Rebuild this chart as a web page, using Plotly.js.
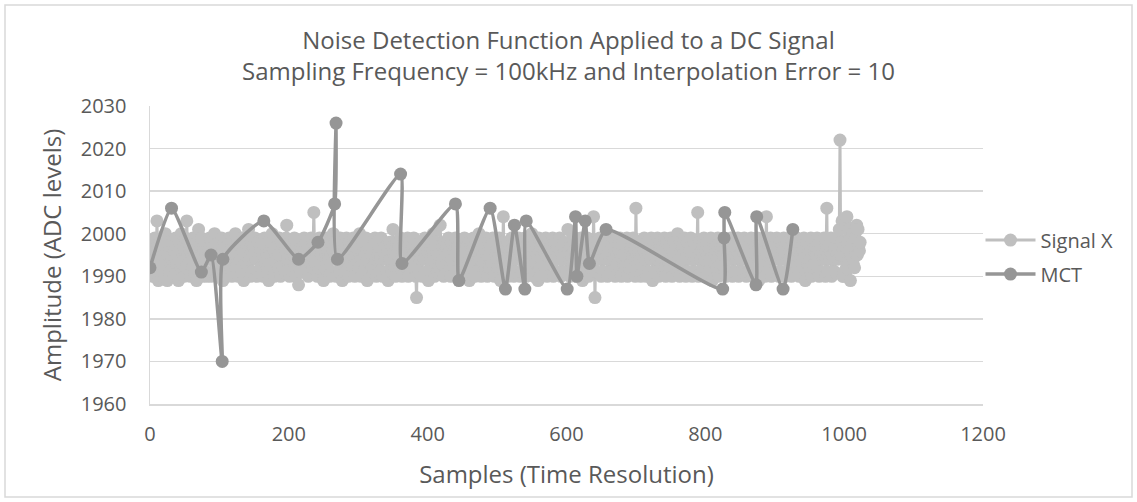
<!DOCTYPE html>
<html>
<head>
<meta charset="utf-8">
<script src="https://cdn.plot.ly/plotly-3.0.1.min.js"></script>
<style>html,body{margin:0;padding:0;background:#fff;}#chart{width:1137px;height:502px;}</style>
</head>
<body>
<div id="chart"></div>
<script>
// Signal X: samples 0..1023 (x = sample index)
var signalX = [
1996,1991,1998,1995,1990,1997,1994,1999, 1996,1991,2003,1995,1989,1997,1998,1994, 1996,1990,1999,1995,1991,1997,2000,1994, 1996,1989,1998,1995,1991,1997,1996,1994,
1995,1998,1990,1996,1992,1999,1993,1997, 1995,1989,1998,1996,1992,2000,1993,1995, 1997,1990,1996,1999,1992,2003,1995,1993, 1998,1996,1990,1997,1995,1992,1999,1996,
1991,1997,1995,1989,1998,1996,2001,1994, 1991,1997,1999,1995,1990,1996,1994,1998, 1995,1991,1990,1997,1996,1994,1999,1995, 1990,1998,1996,1991,1997,2000,1994,1995,
1996,1990,1998,1995,1992,1997,1993,1999, 1996,1989,1995,1998,1992,1996,1990,1997, 1995,1993,1999,1996,1992,1998,1990,1995, 1997,1993,1996,2000,1992,1995,1998,1990,
1996,1994,1997,1995,1991,1999,1996,1989, 1998,1994,1995,1997,1991,1996,2001,1994, 1995,1990,1998,1996,1991,1997,1995,1999, 1994,1996,1990,1998,1995,1991,1997,1996,
1992,1998,1995,1990,1996,1999,1993,1997, 1995,1992,1998,1989,1996,1995,1993,1997, 2000,1992,1996,1990,1998,1995,1993,1997, 1996,1992,1999,1995,1990,1996,1998,1992,
1995,1997,1991,1996,1999,2002,1994,1997, 1995,1990,1998,1996,1994,1997,1991,1995, 1999,1996,1990,1997,1994,1996,1988,1995, 1998,1991,1996,1994,1997,1995,1999,1991,
1996,1992,1998,1995,1990,1997,1996,1993, 1999,1995,1992,1997,2005,1996,1993,1998, 1995,1990,1996,1992,1999,1997,1993,1995, 1998,1996,1989,1992,1997,1995,1993,1999,
1996,1994,1998,1990,1995,1997,1991,1996, 2000,1994,1995,1998,1990,1996,1994,1997, 1995,1991,1999,1996,1994,1989,1998,1995, 1997,1991,1996,1999,1994,1995,1990,1998,
1996,1993,1997,1995,1992,1999,1996,1990, 1998,1995,1993,1997,1996,1992,2000,1995, 1990,1996,1998,1993,1997,1995,1992,1999, 1996,1989,1995,1997,1993,1998,1996,1992,
1995,1997,1991,1996,1999,1994,1990,1998, 1995,1996,1991,1997,1994,1999,1995,1990, 1996,1998,1994,1995,1997,1991,1996,1989, 1995,1998,1994,1996,1991,1997,2001,1995,
1992,1996,1990,1998,1995,1993,1997,1996, 1992,1999,1995,1990,1996,1998,1993,1995, 1997,1992,1996,1999,1990,1995,1998,1992, 1996,1993,1997,1995,1999,1992,1996,1990,
1985,1995,1997,1991,1996,1998,1994,1995, 1990,1997,1996,1994,1999,1995,1991,1997, 1996,1989,1998,1995,1994,1997,1991,1996, 2000,1995,1990,1998,1994,1996,1991,1997,
1995,1992,2002,1996,1993,1997,1995,1990, 1998,1996,1992,1997,1993,1995,1999,1996, 1992,1990,1998,1995,1997,1993,1996,1992, 1999,1995,1990,1997,1996,1992,1998,1993,
1995,1997,1994,1996,1990,1999,1995,1991, 1997,1996,1994,1998,1989,1995,1997,1991, 1996,1994,1999,1995,1990,1998,1996,1991, 1997,1995,2000,1994,1996,1990,1998,1995,
1993,1997,1996,1992,1999,1995,1990,1996, 1998,1992,1995,1997,1993,1996,1999,1992, 1990,1998,1995,1996,1993,1997,1992,1999, 1995,1989,1996,1998,1992,2004,1995,1993,
1997,1996,1994,1998,1990,1995,1997,1991, 1996,1999,1994,1995,1990,1998,1996,1991, 1997,1995,1994,1999,1996,1990,1995,1998, 1991,1997,1996,1994,1999,1995,1990,1996,
1998,1992,1995,1997,1993,1996,2000,1992, 1995,1990,1998,1996,1993,1997,1995,1989, 1999,1992,1996,1990,1998,1995,1993,1997, 1996,1992,1999,1995,1990,1996,1998,1993,
1995,1997,1994,1996,1999,1990,1995,1998, 1994,1996,1991,1997,1995,1994,1999,1996, 1990,1997,1995,1991,1998,1996,1994,1997, 1991,1995,2001,1996,1994,1990,1998,1995,
1997,1993,1996,1992,1999,1995,1990,1998, 1996,1993,1997,1995,1992,1999,1996,1989, 1995,1998,1993,1997,1996,1992,1999,1995, 1990,1996,1998,1992,1995,1997,1993,2004,
1996,1985,1995,1997,1991,1998,1996,1994, 1999,1995,1990,1996,1998,1991,1997,1995, 1994,1999,1996,1990,1995,1998,1994,1996, 1991,1997,1995,1999,1994,1996,1990,1998,
1995,1993,1997,1996,1992,1999,1995,1990, 1996,1998,1993,1995,1997,1992,1996,1999, 1990,1995,1998,1992,1996,1993,1997,1995, 1999,1992,1996,1990,2006,1995,1993,1997,
1996,1994,1998,1990,1995,1997,1991,1996, 1999,1994,1995,1990,1998,1996,1991,1997, 1995,1994,1999,1996,1989,1995,1998,1991, 1997,1996,1994,1999,1995,1990,1996,1998,
1992,1995,1997,1993,1996,1999,1992,1990, 1998,1995,1996,1993,1997,1992,1999,1995, 1990,1996,1998,1992,1995,1997,1993,1996, 2000,1992,1995,1990,1998,1996,1993,1997,
1995,1994,1999,1996,1990,1995,1998,1991, 1997,1996,1994,1999,1995,1990,1996,1998, 1991,1995,1997,1994,1996,2005,1990,1995, 1998,1994,1996,1991,1997,1995,1999,1994,
1996,1990,1998,1995,1993,1997,1996,1992, 1999,1995,1989,1996,1998,1993,1995,1997, 1992,1996,1999,1990,1995,1998,1992,1996, 1993,1997,1995,1999,1992,1996,1990,1998,
1995,1991,1997,1996,1994,1999,1995,1990, 1996,1998,1991,1995,1997,1994,1996,1999, 1990,1995,1998,1994,1996,1991,1997,1995, 1999,1994,1996,1990,1998,1995,1991,1997,
1996,1992,1999,1995,1990,1996,1998,1993, 1997,1995,1992,1999,1996,1989,1995,1998, 1993,1997,1996,1992,1999,1995,1990,1996, 2004,1993,1995,1997,1992,1996,1999,1990,
1995,1998,1994,1996,1991,1997,1995,1999, 1994,1996,1990,1998,1995,1991,1997,1996, 1994,1999,1995,1990,1996,1998,1991,1995, 1997,1994,1996,1999,1990,1995,1998,1994,
1996,1993,1997,1995,1999,1992,1996,1990, 1998,1995,1993,1997,1996,1992,1999,1995, 1989,1996,1998,1993,1995,1997,1992,1996, 1999,1990,1995,1998,1992,1996,1993,1997,
1995,1999,1994,1996,1990,1998,1995,1991, 1997,1996,1994,1999,1995,1990,1996,2006, 1991,1995,1997,1994,1996,1999,1990,1995, 1998,1994,1996,1991,1997,1995,1999,1994,
1996,2001,2022,1995,1998,2003,1990,1996, 1990,1997,2002,1992,2004,1998,1993,2001, 1996,1989,1999,1995,2000,1993,1997,1992, 1999,1996,2002,1995,2001,1997,1996,1998
];

// MCT detected points
var mctX = [0,31,74,88,104,105,164,214,242,266,268,270,361,363,440,445,490,512,525,540,542,601,613,615,627,633,657,825,827,828,873,874,912,926];
var mctY = [1992,2006,1991,1995,1970,1994,2003,1994,1998,2007,2026,1994,2014,1993,2007,1989,2006,1987,2002,1987,2003,1987,2004,1990,2003,1993,2001,1987,1999,2005,1988,2004,1987,2001];

var xTicks = [0,200,400,600,800,1000,1200];
var yTicks = [1960,1970,1980,1990,2000,2010,2020,2030];

var FONT = "Open Sans, DejaVu Sans, sans-serif";
var TXT = "#595959";

var traces = [
  {
    type: "scatter", mode: "lines+markers", name: "Signal X",
    y: signalX, legendgroup: "a",
    line: {color: "#bfbfbf", width: 3},
    marker: {color: "#bfbfbf", size: 13}
  },
  {
    type: "scatter", mode: "lines+markers", name: "MCT",
    x: mctX, y: mctY, legendgroup: "b",
    line: {color: "#969696", width: 3.5, shape: "spline", smoothing: 0.5},
    marker: {color: "#969696", size: 13}
  }
];

var layout = {
  width: 1137, height: 502,
  paper_bgcolor: "#fff", plot_bgcolor: "#fff",
  margin: {l: 150, r: 154, t: 106, b: 98},
  font: {family: FONT, color: TXT},
  title: {
    text: "Noise Detection Function Applied to a DC Signal<br>Sampling Frequency = 100kHz and Interpolation Error = 10",
    font: {family: FONT, size: 24, color: TXT},
    x: 0.5, xref: "container", xanchor: "center",
    y: 1 - 49/502, yref: "container", yanchor: "top"
  },
  xaxis: {
    range: [0, 1200], tickvals: xTicks, ticktext: xTicks.map(String),
    showgrid: false, zeroline: false, showline: true, linecolor: "#d9d9d9", linewidth: 1.5,
    ticks: "", ticklabelstandoff: 11,
    tickfont: {family: FONT, size: 20, color: TXT},
    title: {text: "Samples (Time Resolution)", font: {family: FONT, size: 24, color: TXT}, standoff: 20}
  },
  yaxis: {
    range: [1960, 2030], tickvals: yTicks, ticktext: yTicks.map(String),
    showgrid: true, gridcolor: "#d9d9d9", gridwidth: 1.5, zeroline: false,
    showline: true, linecolor: "#d9d9d9", linewidth: 1.5,
    ticks: "", ticklabelstandoff: 18,
    tickfont: {family: FONT, size: 20, color: TXT},
    title: {text: "Amplitude (ADC levels)", font: {family: FONT, size: 24, color: TXT}, standoff: 12}
  },
  showlegend: true,
  legend: {
    x: 0.997, xanchor: "left", y: 0.493, yanchor: "middle",
    font: {family: FONT, size: 20, color: TXT},
    itemwidth: 50, tracegroupgap: 5, bgcolor: "rgba(0,0,0,0)"
  },
  shapes: [{
    type: "rect", xref: "paper", yref: "paper",
    x0: (5-150)/833, x1: (1132-150)/833,
    y0: (404-497)/298, y1: (404-5)/298,
    line: {color: "#d9d9d9", width: 1.5}, fillcolor: "rgba(0,0,0,0)", layer: "below"
  }]
};

Plotly.newPlot("chart", traces, layout, {displayModeBar: false, staticPlot: true});
</script>
</body>
</html>
